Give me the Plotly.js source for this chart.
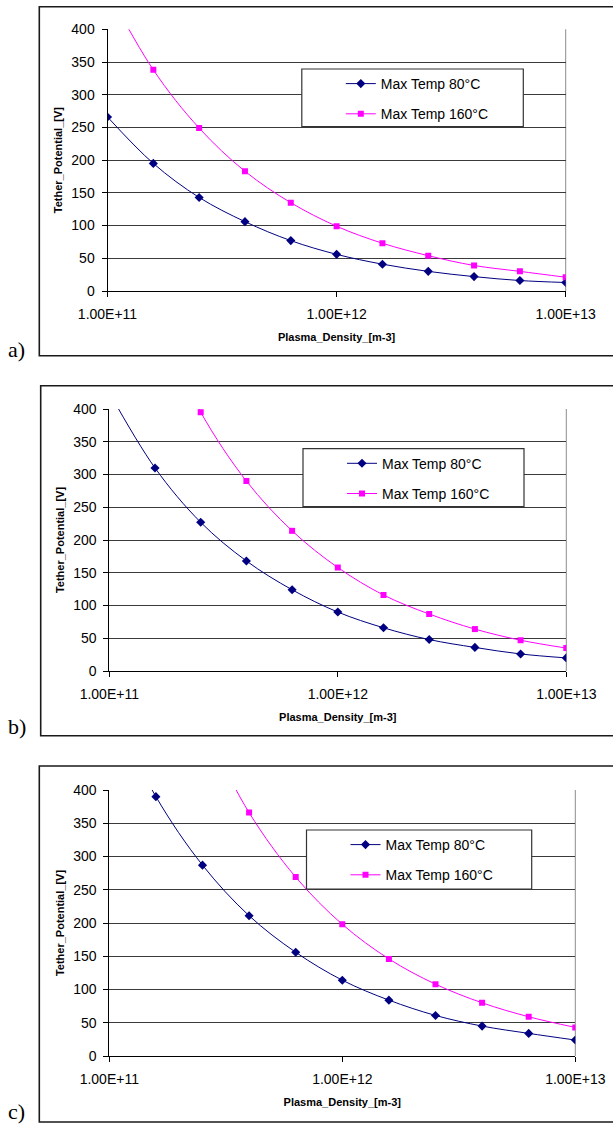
<!DOCTYPE html>
<html>
<head>
<meta charset="utf-8">
<script src="https://cdn.plot.ly/plotly-3.0.1.min.js"></script>
<style>
html,body{margin:0;padding:0;background:#fff;}
#chart{width:613px;height:1128px;}
</style>
</head>
<body>
<div id="chart"></div>
<script>
// ---------------- data ----------------
const density = [1e11, 1.585e11, 2.512e11, 3.981e11, 6.31e11, 1e12, 1.585e12, 2.512e12, 3.981e12, 6.31e12, 1e13];
const seriesNames = ['Max Temp 80°C', 'Max Temp 160°C'];
const xTickVals = [1e11, 1e12, 1e13];
const xTickText = ['1.00E+11', '1.00E+12', '1.00E+13'];
const panelLabels = ['a)', 'b)', 'c)'];
const xTitle = 'Plasma_Density_[m-3]';
const yTitle = 'Tether_Potential_[V]';

// panel a
const a_temp80  = [266, 195, 143, 106, 77, 56, 41, 30, 22, 16, 13];
const a_temp160 = [460, 338, 249, 183, 135, 99, 73, 54, 39, 30, 21];
// panel b
const b_temp80  = [425, 310, 227, 168, 124, 90, 66, 48, 36, 26, 20];
const b_temp160 = [null, 540, 395, 290, 214, 158, 116, 87, 64, 47, 35];
// panel c
const c_temp80  = [530, 390, 287, 211, 156, 114, 84, 61, 45, 34, 24];
const c_temp160 = [null, null, 500, 366, 269, 198, 146, 108, 80, 59, 43];

// ---------------- layout geometry (pixels on the page) ----------------
const W = 613, H = 1128;
const px = v => v / W;
const py = v => 1 - v / H;

const panels = [
  {s80: a_temp80, s160: a_temp160,
   plot: {l: 107.5, r: 565.7, t: 29.3, b: 291},
   box: {l: 39.3, t: 6.7, b: 355.7},
   leg: {l: 301.8, r: 523.3, t: 69, b: 126.7},
   labelY: 349},
  {s80: b_temp80, s160: b_temp160,
   plot: {l: 109.3, r: 566.3, t: 409, b: 671},
   box: {l: 40.7, t: 385.7, b: 735.7},
   leg: {l: 303, r: 524, t: 448.7, b: 506.7},
   labelY: 727},
  {s80: c_temp80, s160: c_temp160,
   plot: {l: 109.3, r: 575.3, t: 790, b: 1056},
   box: {l: 39.3, t: 766, b: 1122},
   leg: {l: 306.5, r: 531.7, t: 830, b: 889},
   labelY: 1111}
];

const tickFont = {family: 'Liberation Sans, Arial, sans-serif', size: 14, color: '#000'};
const titleFont = {family: 'Liberation Sans, Arial, sans-serif', size: 11, color: '#000', weight: 'bold'};

const data = [];
const layout = {
  width: W, height: H,
  margin: {l: 0, r: 0, t: 0, b: 0},
  paper_bgcolor: '#fff', plot_bgcolor: '#fff',
  showlegend: true,
  shapes: [], annotations: []
};

panels.forEach((p, i) => {
  const n = i === 0 ? '' : String(i + 1);
  const xa = 'x' + n, ya = 'y' + n;
  const legName = 'legend' + n;

  data.push({
    x: density, y: p.s80, xaxis: xa, yaxis: ya,
    type: 'scatter', mode: 'lines+markers', name: seriesNames[0],
    line: {color: '#000080', width: 1, shape: 'spline', smoothing: 1},
    marker: {symbol: 'diamond', size: 7, color: '#000080'},
    connectgaps: false, legend: legName, legendgroup: 'g80_' + i
  });
  data.push({
    x: density, y: p.s160, xaxis: xa, yaxis: ya,
    type: 'scatter', mode: 'lines+markers', name: seriesNames[1],
    line: {color: '#FF00FF', width: 1, shape: 'spline', smoothing: 1},
    marker: {symbol: 'square', size: 6, color: '#FF00FF'},
    connectgaps: false, legend: legName, legendgroup: 'g160_' + i
  });

  layout['xaxis' + n] = {
    type: 'log', range: [11, 13], anchor: ya,
    domain: [px(p.plot.l), px(p.plot.r)],
    tickmode: 'array', tickvals: xTickVals, ticktext: xTickText,
    ticks: 'outside', ticklen: 5, tickcolor: '#000', tickwidth: 1,
    showline: true, linecolor: '#000', linewidth: 1,
    showgrid: false, zeroline: false,
    tickfont: tickFont, ticklabelstandoff: 5,
    title: {text: xTitle, font: titleFont, standoff: 12},
    fixedrange: true
  };
  layout['yaxis' + n] = {
    range: [0, 400], anchor: xa,
    domain: [py(p.plot.b), py(p.plot.t)],
    dtick: 50, tick0: 0,
    ticks: 'outside', ticklen: 5, tickcolor: '#000', tickwidth: 1,
    showline: true, linecolor: '#000', linewidth: 1,
    showgrid: true, gridcolor: '#3a3a3a', gridwidth: 1,
    zeroline: false,
    tickfont: tickFont, ticklabelstandoff: 4,
    title: {text: yTitle, font: titleFont, standoff: 6},
    fixedrange: true
  };

  // outer frame of the panel (runs past the right page edge)
  layout.shapes.push({
    type: 'rect', xref: 'paper', yref: 'paper',
    x0: px(p.box.l), x1: 1.02, y0: py(p.box.b), y1: py(p.box.t),
    line: {color: '#1a1a1a', width: 1.6}, fillcolor: 'rgba(0,0,0,0)', layer: 'below'
  });
  // plot-area right border (gray)
  layout.shapes.push({
    type: 'line', xref: xa + ' domain', yref: ya + ' domain',
    x0: 1, x1: 1, y0: 0, y1: 1,
    line: {color: '#8c8c8c', width: 1}, layer: 'below'
  });
  // legend box
  layout.shapes.push({
    type: 'rect', xref: 'paper', yref: 'paper',
    x0: px(p.leg.l), x1: px(p.leg.r), y0: py(p.leg.b), y1: py(p.leg.t),
    line: {color: '#333', width: 1.2}, fillcolor: '#fff', layer: 'above'
  });

  layout[legName] = {
    x: px(p.leg.l + 39), y: py(p.leg.t - 1),
    xanchor: 'left', yanchor: 'top',
    xref: 'paper', yref: 'paper',
    bgcolor: 'rgba(0,0,0,0)', borderwidth: 0,
    font: {family: 'Liberation Sans, Arial, sans-serif', size: 14, color: '#000'},
    traceorder: 'grouped', tracegroupgap: 9
  };

  layout.annotations.push({
    text: panelLabels[i], xref: 'paper', yref: 'paper',
    x: px(6), y: py(p.labelY), xanchor: 'left', yanchor: 'middle',
    showarrow: false,
    font: {family: 'Liberation Serif, Times New Roman, serif', size: 22, color: '#000'}
  });
});

Plotly.newPlot('chart', data, layout, {displayModeBar: false, staticPlot: true});
</script>
</body>
</html>
